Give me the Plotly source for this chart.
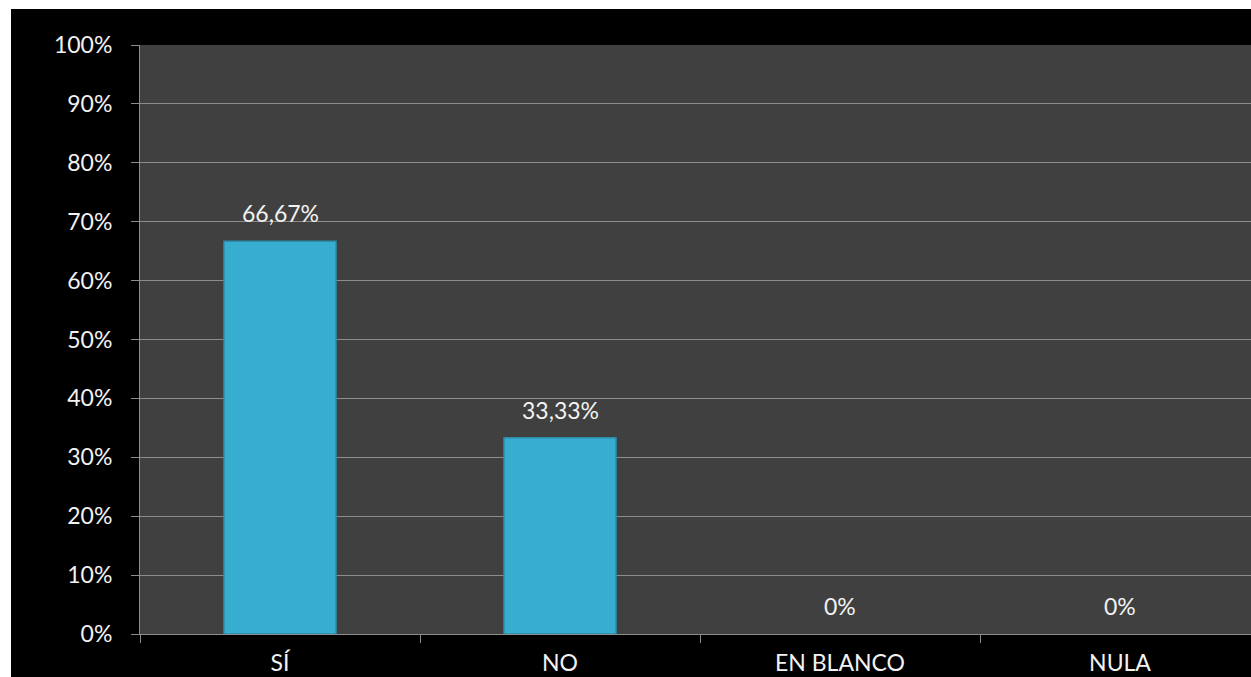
import plotly.graph_objects as go

categories = ["SÍ", "NO", "EN BLANCO", "NULA"]
shares = [0.6667, 0.3333, 0.0, 0.0]


def es_percent(v):
    if v == 0:
        return "0%"
    return f"{v * 100:.2f}".replace(".", ",") + "%"


labels = [es_percent(v) for v in shares]

W, H = 1251, 677
L, R, T, B = 140, 0, 45, 43
pw, ph = W - L - R, H - T - B


def px_x(x):
    return (x - L) / pw


def px_y(y):
    return (H - B - y) / ph


axis_gray = "#8c8c8c"
text_col = "#f2f2f2"
font_family = "Lato, 'Open Sans', sans-serif"
fsize = 23

fig = go.Figure(
    go.Bar(
        x=categories,
        y=shares,
        width=0.4,
        marker=dict(
            color="#37aed0",
            line=dict(color="#2c8eab", width=[1.5 if v > 0 else 0 for v in shares]),
        ),
        hoverinfo="skip",
    )
)

# value labels above each bar
for cat, v, lab in zip(categories, shares, labels):
    fig.add_annotation(
        x=cat, y=v, text=lab, showarrow=False,
        xanchor="center", yanchor="bottom", yshift=12,
        font=dict(color=text_col, size=fsize, family=font_family),
    )

# white strips along the top and left edges of the page
fig.add_shape(type="rect", xref="paper", yref="paper",
              x0=px_x(0), x1=px_x(W), y0=px_y(9), y1=px_y(0),
              fillcolor="white", line_width=0, layer="above")
fig.add_shape(type="rect", xref="paper", yref="paper",
              x0=px_x(0), x1=px_x(11), y0=px_y(H), y1=px_y(0),
              fillcolor="white", line_width=0, layer="above")

fig.update_layout(
    width=W,
    height=H,
    autosize=False,
    margin=dict(l=L, r=R, t=T, b=B, autoexpand=False),
    paper_bgcolor="black",
    plot_bgcolor="#404040",
    showlegend=False,
    font=dict(family=font_family, size=fsize, color=text_col),
    xaxis=dict(
        range=[-0.5, -0.5 + pw / 280],
        automargin=False,
        showgrid=False,
        showline=True,
        linecolor=axis_gray,
        linewidth=1,
        ticks="outside",
        tickson="boundaries",
        ticklen=8,
        tickcolor=axis_gray,
        ticklabelstandoff=8,
        tickfont=dict(size=fsize, color=text_col),
        fixedrange=True,
    ),
    yaxis=dict(
        range=[0, 1],
        dtick=0.1,
        tickformat=".0%",
        automargin=False,
        showgrid=True,
        gridcolor=axis_gray,
        gridwidth=1,
        showline=True,
        linecolor=axis_gray,
        ticks="outside",
        ticklen=8,
        tickcolor=axis_gray,
        ticklabelstandoff=14,
        tickfont=dict(size=fsize, color=text_col),
        zeroline=False,
        fixedrange=True,
    ),
)

fig.write_html("out.html", config={"displayModeBar": False})
